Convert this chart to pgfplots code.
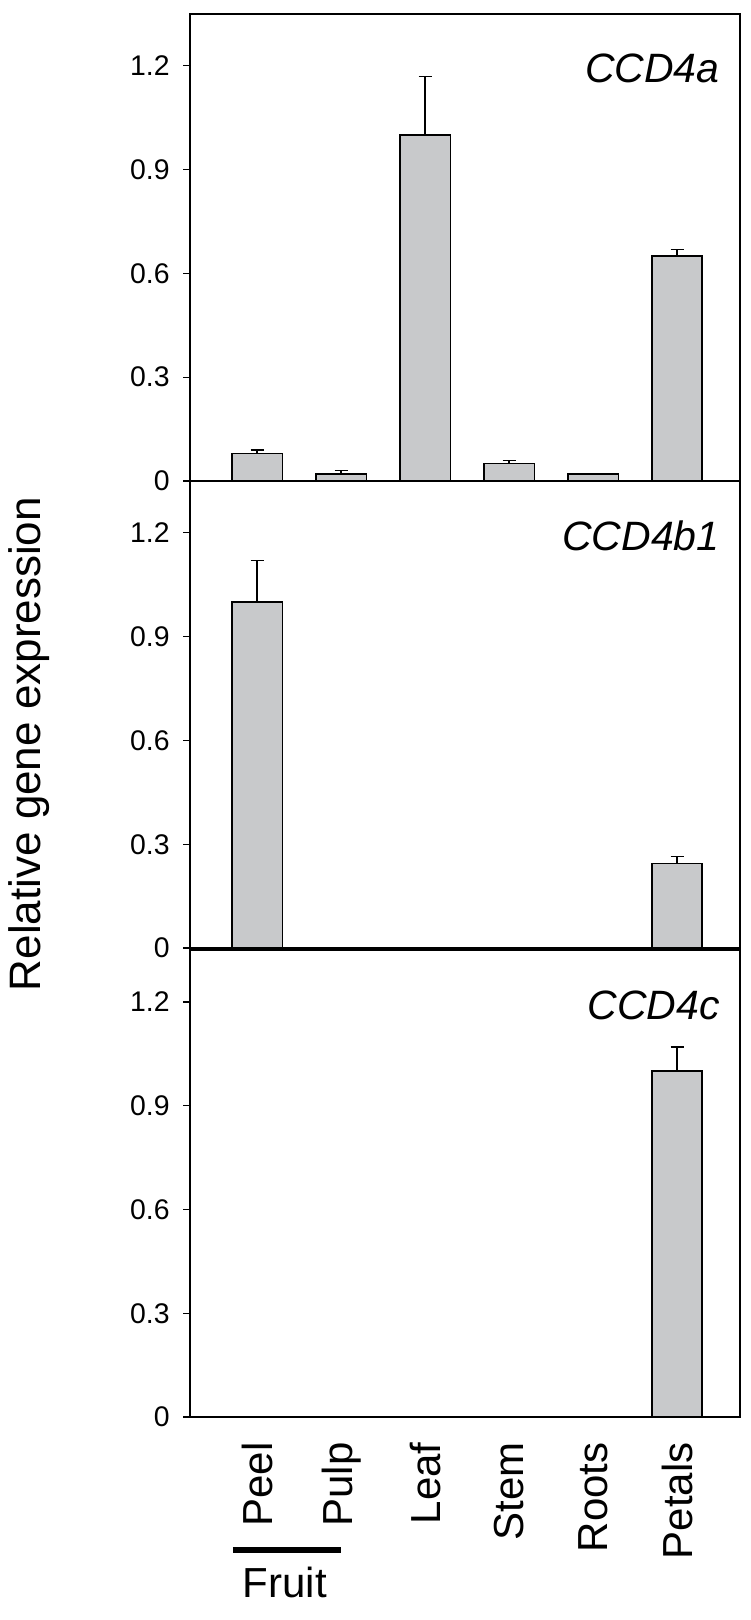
\documentclass[border=0pt]{standalone}
\usepackage{pgfplots}
\pgfplotsset{compat=1.18}
\usepackage{pgfplotstable}
\usepackage{fontspec}
\setmainfont{Liberation Sans}
\definecolor{barfill}{RGB}{200,201,203}
\newcommand\tickfont{\fontsize{14.2}{16}\selectfont}
\newcommand\bigfont{\fontsize{21}{24}\selectfont}
\newcommand\ylabfont{\fontsize{22}{26}\selectfont}
\newcommand\genefont{\fontsize{20.5}{24}\selectfont\itshape}

\pgfplotstableread{
x y err
0 0.08 0.01
1 0.02 0.01
2 1.00 0.17
3 0.05 0.01
4 0.02 0.00
5 0.65 0.02
}\dataA
\pgfplotstableread{
x y err
0 1.00 0.12
1 0 0
2 0 0
3 0 0
4 0 0
5 0.245 0.02
}\dataB
\pgfplotstableread{
x y err
0 0 0
1 0 0
2 0 0
3 0 0
4 0 0
5 1.00 0.07
}\dataC

\pgfplotsset{
  panel/.style={
    scale only axis, width=275pt, height=233.5pt,
    xmin=-0.8, xmax=5.75, ymin=0, ymax=1.35,
    ybar,
    axis line style={line width=0.6pt},
    ytick={0,0.3,0.6,0.9,1.2},
    yticklabels={0,0.3,0.6,0.9,1.2},
    ytick pos=left, tick align=outside, major tick length=3.5pt,
    tick style={line width=0.6pt, black},
    yticklabel style={font=\tickfont, inner sep=0pt},
    yticklabel shift=6.5pt,
    xtick={0,1,2,3,4,5}, xtick style={draw=none},
    xticklabels={},
    /pgf/number format/assume math mode=true,
    clip=false,
  },
  gbar/.style={fill=barfill, draw=black, line width=0.75pt, bar width=0.6,
    error bars/y dir=plus, error bars/y explicit,
    error bars/error bar style={line width=0.7pt, black},
    error bars/error mark options={rotate=90, mark size=3.25pt, line width=0.7pt, black}},
}

\begin{document}
\begin{tikzpicture}
\useasboundingbox (0,0) rectangle (375pt,-810pt);

\begin{axis}[panel, at={(95pt,-240.5pt)}, anchor=south west]
\addplot[gbar] table[x=x, y=y, y error=err] {\dataA};
\node[font=\genefont, anchor=base east, inner sep=0pt, xshift=-10pt, yshift=-34.5pt] at (rel axis cs:1,1) {CCD4a};
\end{axis}

\begin{axis}[panel, at={(95pt,-474pt)}, anchor=south west]
\addplot[gbar] table[x=x, y=y, y error=err] {\dataB};
\node[font=\genefont, anchor=base east, inner sep=0pt, xshift=-10pt, yshift=-34.5pt] at (rel axis cs:1,1) {CCD4b1};
\end{axis}

\begin{axis}[panel, at={(95pt,-708.5pt)}, anchor=south west,
  xticklabels={Peel,Pulp,Leaf,Stem,Roots,Petals},
  xticklabel style={rotate=90, anchor=east, inner sep=0pt, font=\bigfont},
  xticklabel shift=9pt]
\addplot[gbar] table[x=x, y=y, y error=err] {\dataC};
\node[font=\genefont, anchor=base east, inner sep=0pt, xshift=-10pt, yshift=-34.5pt] at (rel axis cs:1,1) {CCD4c};
\draw[line width=2.8pt] (axis cs:-0.29,-0.385) -- (axis cs:1.0,-0.385);
\node[font=\bigfont, anchor=base, inner sep=0pt] at (axis cs:0.33,-0.522) {Fruit};
\end{axis}

% thick zero lines of the three panels, drawn last so they stay on top
\draw[line width=1.3pt] (95pt,-240.5pt) -- (370pt,-240.5pt);
\draw[line width=1.3pt] (95pt,-474pt) -- (370pt,-474pt);
\draw[line width=1.3pt] (95pt,-708.5pt) -- (370pt,-708.5pt);

\node[font=\ylabfont, rotate=90, anchor=north, inner sep=0pt] at (4pt,-372pt) {Relative gene expression};
\end{tikzpicture}
\end{document}
